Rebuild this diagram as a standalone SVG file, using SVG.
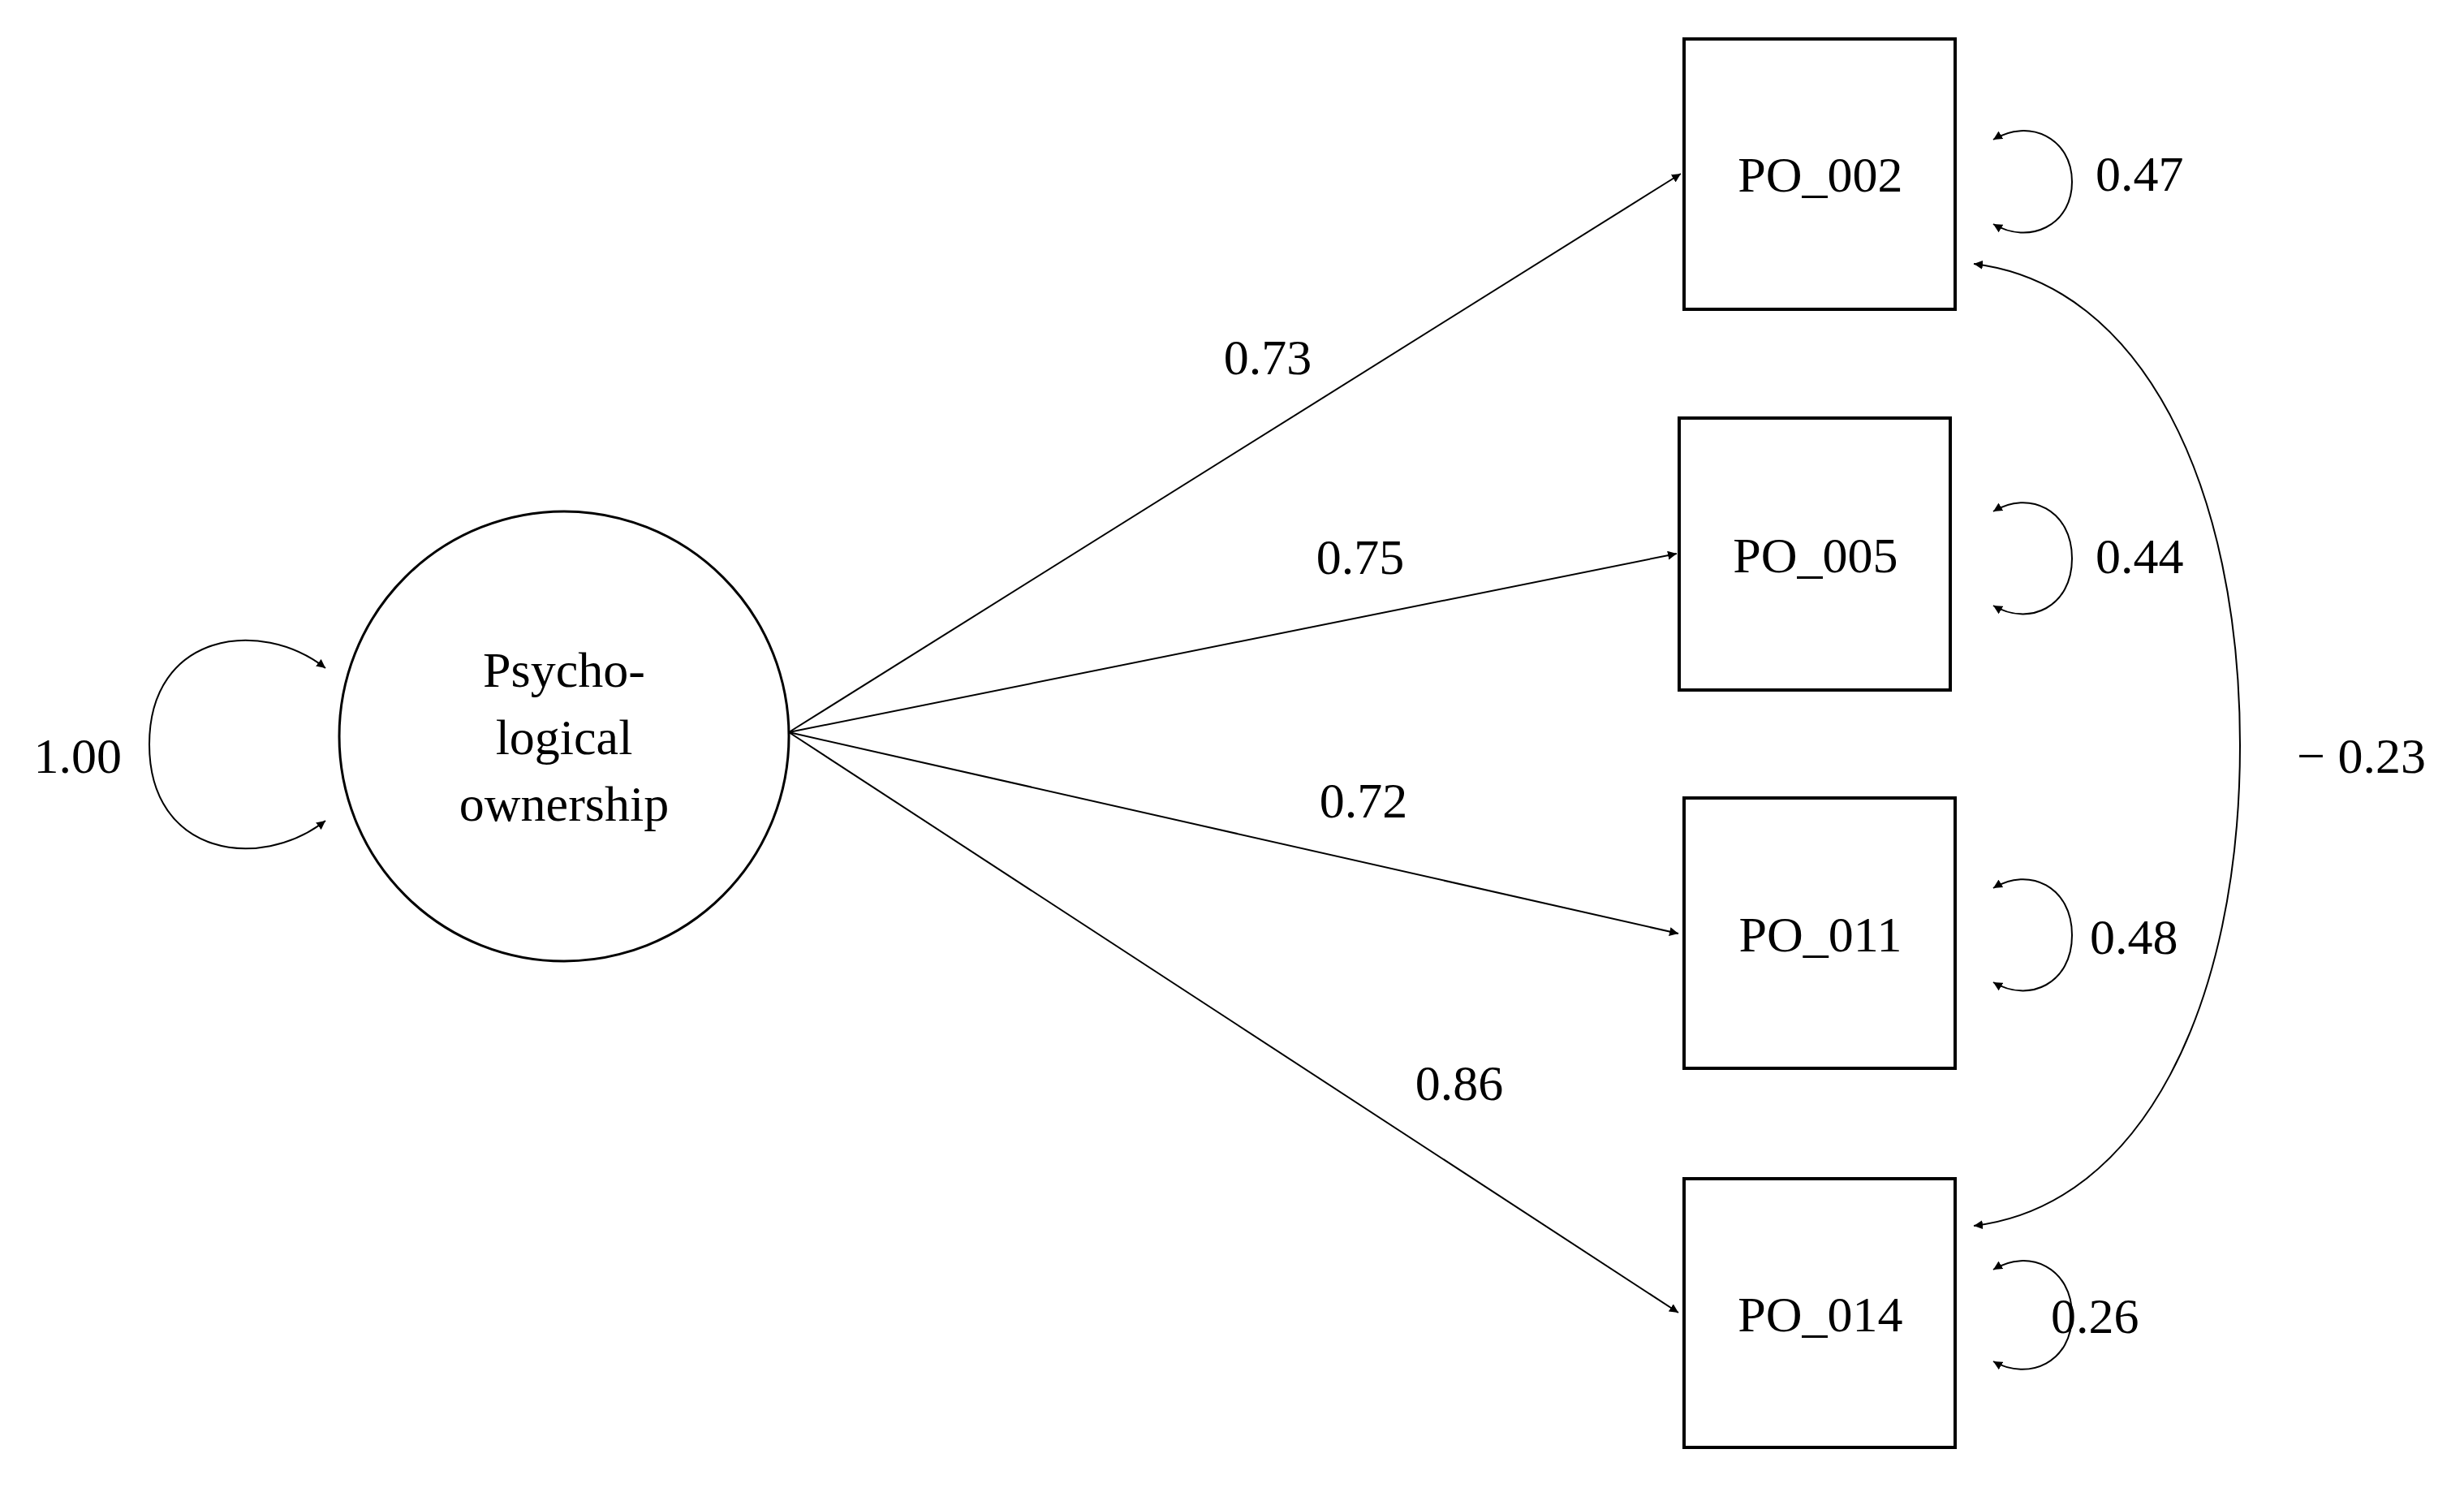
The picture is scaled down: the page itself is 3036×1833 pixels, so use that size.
<svg xmlns="http://www.w3.org/2000/svg" width="3036" height="1833" viewBox="0 0 3036 1833">
<style>
text{font-family:"Liberation Serif","DejaVu Serif",serif;font-size:62px;fill:#000}
.n{text-anchor:middle}
.box{fill:#fff;stroke:#000;stroke-width:4}
.e{fill:none;stroke:#000;stroke-width:2;marker-end:url(#a)}
.l{fill:none;stroke:#000;stroke-width:2;marker-start:url(#a);marker-end:url(#a)}
</style>
<defs>
<marker id="a" viewBox="0 0 10 10" refX="10" refY="5" markerWidth="11" markerHeight="11" markerUnits="userSpaceOnUse" orient="auto-start-reverse"><path d="M0,0L10,5L0,10z" fill="#000"/></marker>
</defs>
<rect width="3036" height="1833" fill="#fff"/>
<g id="connectors">
<path class="e" d="M972,902L2071,214"/>
<path class="e" d="M972,902L2066,682"/>
<path class="e" d="M972,902L2068,1150"/>
<path class="e" d="M972,902L2068,1617"/>
<path class="l" d="M401,823C320,760 184,780 184,917C184,1054 320,1074 401,1011"/>
<path class="l" d="M2456,172C2500,145 2553,170 2553,224C2553,278 2500,302 2456,276"/>
<path class="l" d="M2456,630C2500,603 2553,628 2553,688C2553,748 2500,772 2456,746"/>
<path class="l" d="M2456,1094C2500,1067 2553,1092 2553,1152C2553,1212 2500,1236 2456,1210"/>
<path class="l" d="M2456,1564C2500,1537 2553,1562 2553,1620C2553,1678 2500,1702 2456,1677"/>
<path class="l" d="M2432,325C2640,350 2760,600 2760,918C2760,1236 2640,1485 2432,1510"/>
<text x="1562" y="461" class="n">0.73</text>
<text x="1676" y="707" class="n">0.75</text>
<text x="1680" y="1007" class="n">0.72</text>
<text x="1798" y="1355" class="n">0.86</text>
<text x="2582" y="235">0.47</text>
<text x="2582" y="706">0.44</text>
<text x="2575" y="1175">0.48</text>
<text x="2527" y="1642">0.26</text>
<text x="2830" y="952">− 0.23</text>
<text x="150" y="952" text-anchor="end">1.00</text>
</g>
<g id="factor">
<circle cx="695" cy="907" r="277" fill="#fff" stroke="#000" stroke-width="3"/>
<text x="695" y="846" class="n">Psycho-</text>
<text x="695" y="929" class="n">logical</text>
<text x="695" y="1011" class="n">ownership</text>
</g>
<g id="PO_002"><rect class="box" x="2075" y="48" width="334" height="333"/><text x="2243" y="236" class="n">PO_002</text></g>
<g id="PO_005"><rect class="box" x="2069" y="515" width="334" height="335"/><text x="2237" y="705" class="n">PO_005</text></g>
<g id="PO_011"><rect class="box" x="2075" y="983" width="334" height="333"/><text x="2243" y="1172" class="n">PO_011</text></g>
<g id="PO_014"><rect class="box" x="2075" y="1452" width="334" height="331"/><text x="2243" y="1640" class="n">PO_014</text></g>
</svg>
